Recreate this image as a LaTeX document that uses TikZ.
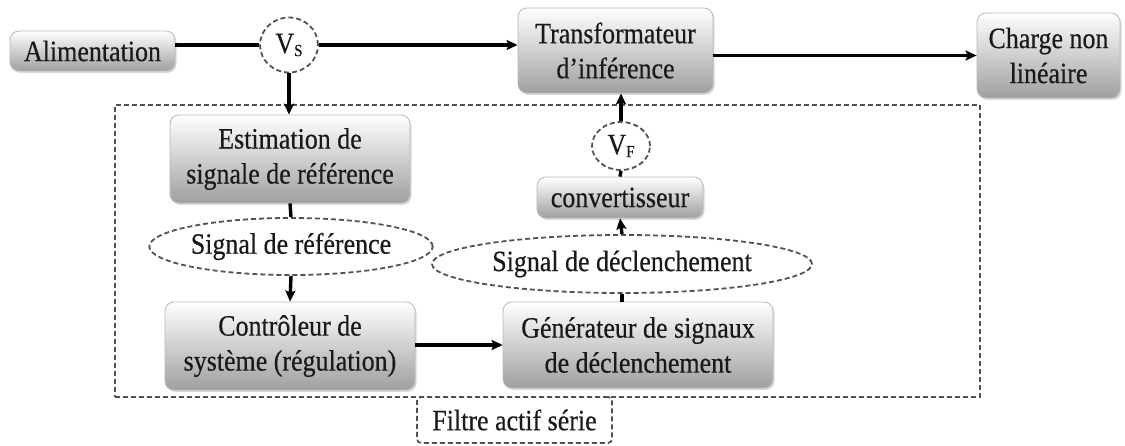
\documentclass[tikz,border=0pt]{standalone}
\usepackage{fontspec}
\setmainfont{Liberation Serif}[FakeStretch=0.88,FakeBold=0.4]
\usetikzlibrary{shapes.geometric,shadows,arrows.meta}

\begin{document}
\begin{tikzpicture}[x=1pt,y=-1pt,
  txt/.style={font=\fontsize{29.5}{35}\selectfont, text=black!90},
  blk/.style={txt, rectangle, rounded corners=9pt, draw=gray!55, line width=0.8pt,
    top color=white, bottom color=gray!75, align=center, inner sep=0pt,
    drop shadow={opacity=0.3, shadow xshift=1.5pt, shadow yshift=-2pt}},
  dsh/.style={draw=black!68, line width=1.8pt, dash pattern=on 5pt off 3pt},
  sig/.style={txt, ellipse, dsh, inner sep=0pt},
  wire/.style={line width=3.4pt, black},
  arr/.style={wire, -{Stealth[length=11pt,width=10pt,inset=2pt]}},
]
\useasboundingbox (0,0) rectangle (1125,446);

% active filter enclosure and its label
\node (enclosure) [dsh, minimum width=865pt, minimum height=292pt, inner sep=0pt] at (547.5,251) {};
\node (filtre) [txt, dsh, rounded corners=4pt, fill=white, minimum width=195pt, minimum height=46pt, inner sep=0pt] at (514.5,420) {Filtre actif série};

% main power path
\node (alim) [blk, minimum width=165pt, minimum height=40pt] at (92.5,51) {Alimentation};
\node (vs) [sig, minimum width=58pt, minimum height=55pt] at (289,45) {V\raisebox{-3pt}{\fontsize{17}{17}\selectfont S}};
\node (transfo) [blk, minimum width=195pt, minimum height=85pt] at (615.5,50.5) {Transformateur\\d'inférence};
\node (charge) [blk, minimum width=143pt, minimum height=85pt] at (1048.5,55.5) {Charge non\\linéaire};

% control chain
\node (estim) [blk, minimum width=240pt, minimum height=88pt] at (290,159) {Estimation de\\signale de référence};
\node (sigref) [sig, minimum width=282pt, minimum height=57pt] at (291,246.5) {Signal de référence};
\node (ctrl) [blk, minimum width=250pt, minimum height=88pt] at (290,346) {Contrôleur de\\système (régulation)};
\node (gen) [blk, minimum width=270pt, minimum height=86pt] at (638,345) {Générateur de signaux\\de déclenchement};
\node (sigdecl) [sig, minimum width=380pt, minimum height=58pt] at (622,264) {Signal de déclenchement};
\node (conv) [blk, minimum width=166pt, minimum height=41pt] at (620,197.5) {convertisseur};
\node (vf) [sig, minimum width=58pt, minimum height=48pt] at (621,146) {V\raisebox{-3pt}{\fontsize{17}{17}\selectfont F}};

% connections
\draw[wire] (alim.east |- vs.west) -- (vs.west);
\draw[arr] (vs.east) -- (vs.east -| transfo.west);
\draw[arr] (transfo.east |- charge.west) -- (charge.west);
\draw[arr] (vs.south) -- (vs.south |- estim.north);
\draw[wire] (estim.south) -- (sigref.north);
\draw[arr] (sigref.south) -- (ctrl.north);
\draw[arr] (ctrl.east |- gen.west) -- (gen.west);
\draw[wire] (sigdecl.south) -- (sigdecl.south |- gen.north);
\draw[arr] (sigdecl.north) -- (conv.south);
\draw[wire] (conv.north) -- (vf.south);
\draw[arr] (vf.north) -- (vf.north |- transfo.south);
\end{tikzpicture}
\end{document}
